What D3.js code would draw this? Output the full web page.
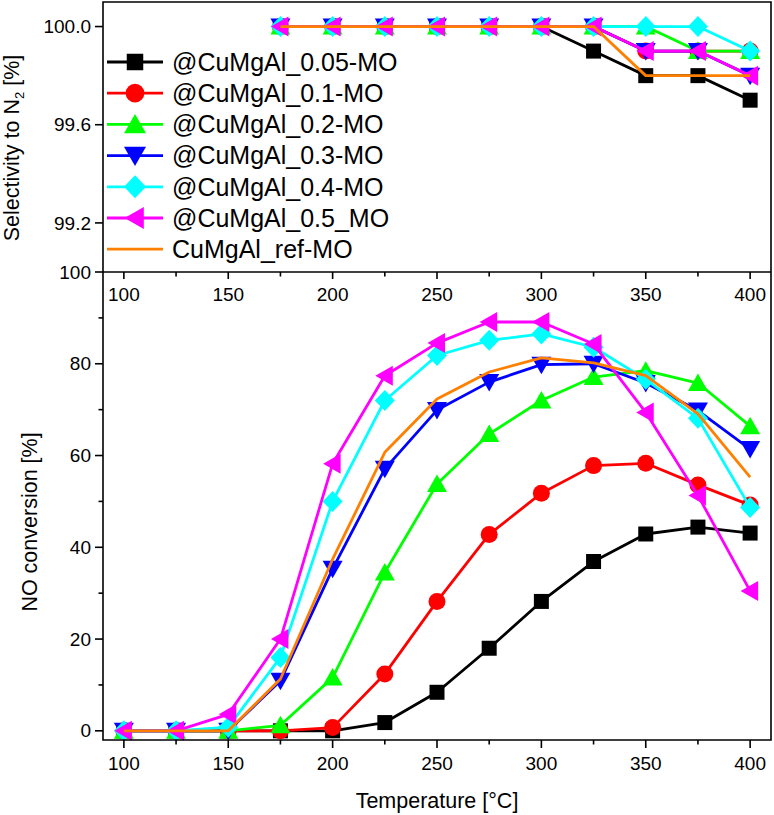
<!DOCTYPE html>
<html><head><meta charset="utf-8">
<script src="https://cdn.jsdelivr.net/npm/d3@7"></script>
<style>
html,body{margin:0;padding:0;background:#fff;}
svg{display:block;font-family:"Liberation Sans",Arial,sans-serif;}
</style></head>
<body><svg id="c" width="774" height="815"></svg>
<script>
// ---------- data ----------
const temps = [100,125,150,175,200,225,250,275,300,325,350,375,400];
const selTemps = [175,200,225,250,275,300,325,350,375,400];
const seriesNames = ["@CuMgAl_0.05-MO","@CuMgAl_0.1-MO","@CuMgAl_0.2-MO","@CuMgAl_0.3-MO","@CuMgAl_0.4-MO","@CuMgAl_0.5_MO","CuMgAl_ref-MO"];
const seriesColors = ["#000000","#ff0000","#00ff00","#0000ff","#00ffff","#ff00ff","#ff8000"];
const seriesSymbols = ["square","circle","triUp","triDown","diamond","triLeft","none"];

// NO conversion [%]
const conv005 = [0,0,0,0,0,1.8,8.4,18.0,28.2,36.9,42.9,44.4,43.1];
const conv01  = [0,0,0,0,0.7,12.4,28.2,42.8,51.8,57.8,58.3,53.6,49.2];
const conv02  = [0,0,0,1.2,11.6,34.5,53.8,64.7,72.0,77.1,78.5,75.8,66.4];
const conv03  = [0,0,0,10.9,35.3,57.1,69.9,76.0,79.8,80.0,75.8,69.8,61.4];
const conv04  = [0,0,0.8,16.0,50.0,72.0,81.8,85.1,86.5,83.6,76.6,68.1,48.7];
const conv05  = [0,0,3.6,20.0,58.2,77.4,84.5,89.1,89.1,84.3,69.4,51.3,30.5];
const convRef = [0,0,0,11.3,37.4,60.7,72.3,78.2,81.3,80.2,77.4,69.1,55.3];

// Selectivity to N2 [%]
const sel005 = [100,100,100,100,100,100,99.9,99.8,99.8,99.7];
const sel01  = [100,100,100,100,100,100,100,99.9,99.9,99.9];
const sel02  = [100,100,100,100,100,100,100,100,99.9,99.9];
const sel03  = [100,100,100,100,100,100,100,99.9,99.9,99.8];
const sel04  = [100,100,100,100,100,100,100,100,100,99.9];
const sel05  = [100,100,100,100,100,100,100,99.9,99.9,99.8];
const selRef = [100,100,100,100,100,100,100,99.8,99.8,99.8];

const convSeries = [conv005,conv01,conv02,conv03,conv04,conv05,convRef];
const selSeries  = [sel005,sel01,sel02,sel03,sel04,sel05,selRef];

const xTicksMajor = [100,150,200,250,300,350,400];
const xTicksMinor = [125,175,225,275,325,375];
const selTicks = [100.0,99.6,99.2];
const convTicksMajor = [0,20,40,60,80,100];
const convTicksMinor = [10,30,50,70,90];

// ---------- layout ----------
const L = 103, R = 771, T = 2, MID = 272, B = 740;
const svg = d3.select("#c");

const x = d3.scaleLinear().domain([90,410]).range([L,R]);
const yTop = d3.scaleLinear().domain([99.0,100.1]).range([MID,T]);
const yBot = d3.scaleLinear().domain([-2,100]).range([B,MID]);

function symPath(type){
  switch(type){
    case "square": return "M-7.5,-7.5h15v15h-15Z";
    case "circle": return d3.symbol(d3.symbolCircle, Math.PI*8.5*8.5)();
    case "triUp": return "M0,-9.5L10,8L-10,8Z";
    case "triDown": return "M0,9.5L10,-8L-10,-8Z";
    case "diamond": return "M0,-10.5L10,0L0,10.5L-10,0Z";
    case "triLeft": return "M-9.5,0L8,-10L8,10Z";
  }
  return null;
}

function drawSeries(g, xs, ys, yScale, i){
  const pts = xs.map((t,k)=>[t, ys[k]]);
  const line = d3.line().x(d=>x(d[0])).y(d=>yScale(d[1]));
  const sg = g.append("g");
  sg.append("path").attr("d", line(pts)).attr("fill","none")
    .attr("stroke", seriesColors[i]).attr("stroke-width", 2.8).attr("stroke-linejoin","round");
  const p = symPath(seriesSymbols[i]);
  if(p){
    sg.selectAll("path.m").data(pts).enter().append("path").attr("class","m")
      .attr("d", p).attr("transform", d=>`translate(${x(d[0])},${yScale(d[1])})`)
      .attr("fill", seriesColors[i]);
  }
}

// ---------- data marks ----------
const gTop = svg.append("g");
const gBot = svg.append("g");
for(let i=0;i<seriesNames.length;i++){
  drawSeries(gTop, selTemps, selSeries[i], yTop, i);
  drawSeries(gBot, temps, convSeries[i], yBot, i);
}

// ---------- axes ----------
const ax = svg.append("g").attr("stroke","#000").attr("stroke-width",1.6).attr("fill","none");
ax.append("path").attr("d",`M${L},${T}H${R}V${B}H${L}Z`);
ax.append("line").attr("x1",L).attr("x2",R).attr("y1",MID).attr("y2",MID);

const fontTick = 19;
const txt = svg.append("g").attr("fill","#000").attr("font-size",fontTick);

// top-panel left ticks
selTicks.forEach(v=>{
  ax.append("line").attr("x1",L-8).attr("x2",L).attr("y1",yTop(v)).attr("y2",yTop(v));
  txt.append("text").attr("x",L-12).attr("y",yTop(v)).attr("dy","0.35em").attr("text-anchor","end").text(d3.format(".1f")(v));
});
// bottom-panel left ticks
convTicksMajor.forEach(v=>{
  ax.append("line").attr("x1",L-8).attr("x2",L).attr("y1",yBot(v)).attr("y2",yBot(v));
  txt.append("text").attr("x",L-12).attr("y",yBot(v)).attr("dy","0.35em").attr("text-anchor","end").text(v);
});
convTicksMinor.forEach(v=>{
  ax.append("line").attr("x1",L-4.5).attr("x2",L).attr("y1",yBot(v)).attr("y2",yBot(v));
});
// middle x-axis (ticks downward, labels below)
xTicksMajor.forEach(v=>{
  ax.append("line").attr("x1",x(v)).attr("x2",x(v)).attr("y1",MID).attr("y2",MID+7);
  txt.append("text").attr("x",x(v)).attr("y",301).attr("text-anchor","middle").text(v);
});
xTicksMinor.forEach(v=>{
  ax.append("line").attr("x1",x(v)).attr("x2",x(v)).attr("y1",MID).attr("y2",MID+4.5);
});
// bottom x-axis
xTicksMajor.forEach(v=>{
  ax.append("line").attr("x1",x(v)).attr("x2",x(v)).attr("y1",B).attr("y2",B+8);
  txt.append("text").attr("x",x(v)).attr("y",770).attr("text-anchor","middle").text(v);
});
xTicksMinor.forEach(v=>{
  ax.append("line").attr("x1",x(v)).attr("x2",x(v)).attr("y1",B).attr("y2",B+4.5);
});

// axis titles
const ttl = svg.append("g").attr("fill","#000").attr("font-size",21.5);
ttl.append("text").attr("x",(L+R)/2).attr("y",808).attr("text-anchor","middle").text("Temperature [°C]");
ttl.append("text").attr("transform","translate(37,522) rotate(-90)").attr("text-anchor","middle").text("NO conversion [%]");
const st = ttl.append("text").attr("transform","translate(19,148) rotate(-90)").attr("text-anchor","middle");
st.append("tspan").text("Selectivity to N");
st.append("tspan").attr("font-size",13).attr("dy",5).text("2");
st.append("tspan").attr("dy",-5).text(" [%]");

// legend
const lg = svg.append("g");
const legY0 = 62, legDy = 31.2;
seriesNames.forEach((n,i)=>{
  const yy = legY0 + i*legDy;
  lg.append("line").attr("x1",107).attr("x2",163).attr("y1",yy).attr("y2",yy)
    .attr("stroke",seriesColors[i]).attr("stroke-width",2.8);
  const p = symPath(seriesSymbols[i]);
  if(p) lg.append("path").attr("d",p).attr("transform",`translate(135,${yy}) scale(1.1)`).attr("fill",seriesColors[i]);
  lg.append("text").attr("x",172).attr("y",yy).attr("dy","0.35em").attr("font-size",25).text(n);
});
</script>
</body></html>
